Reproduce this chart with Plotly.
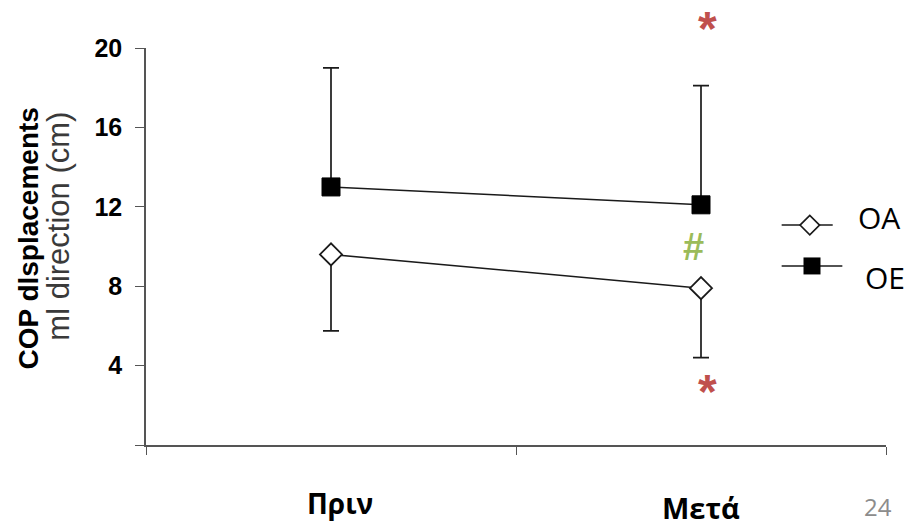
import plotly.graph_objects as go

categories = ["Πριν", "Μετά"]
x_pos = [0.5, 1.5]
oa_mean = [9.6, 7.9]
oa_err_low = [3.85, 3.5]
oe_mean = [13.0, 12.1]
oe_err_high = [6.0, 6.0]
y_ticks = [4, 8, 12, 16, 20]
series_names = ["OA", "OE"]

AX = "#555555"
LINE = "#1a1a1a"

fig = go.Figure()

fig.add_trace(go.Scatter(
    x=x_pos, y=oe_mean, mode="lines+markers", name="OE",
    line=dict(color=LINE, width=1.5),
    marker=dict(symbol="square", size=18, color="black", line=dict(color="black", width=1)),
    error_y=dict(type="data", symmetric=False, array=oe_err_high, arrayminus=[0, 0],
                 color=LINE, thickness=1.7, width=8),
    showlegend=False, cliponaxis=False,
))
fig.add_trace(go.Scatter(
    x=x_pos, y=oa_mean, mode="lines+markers", name="OA",
    line=dict(color=LINE, width=1.5),
    marker=dict(symbol="diamond", size=17, color="white", line=dict(color=LINE, width=1.8)),
    error_y=dict(type="data", symmetric=False, array=[0, 0], arrayminus=oa_err_low,
                 color=LINE, thickness=1.7, width=8),
    showlegend=False, cliponaxis=False,
))

# manual legend on an overlay axis (0..1 in both directions)
leg_y = [0.554, 0.451]
fig.add_trace(go.Scatter(x=[0.859, 0.928], y=[leg_y[0]] * 2, mode="lines",
                         line=dict(color=LINE, width=1.5), xaxis="x2", yaxis="y2",
                         showlegend=False, cliponaxis=False))
fig.add_trace(go.Scatter(x=[0.897], y=[leg_y[0]], mode="markers",
                         marker=dict(symbol="diamond", size=15, color="white",
                                     line=dict(color=LINE, width=1.6)),
                         xaxis="x2", yaxis="y2", showlegend=False, cliponaxis=False))
fig.add_trace(go.Scatter(x=[0.859, 0.941], y=[leg_y[1]] * 2, mode="lines",
                         line=dict(color=LINE, width=1.5), xaxis="x2", yaxis="y2",
                         showlegend=False, cliponaxis=False))
fig.add_trace(go.Scatter(x=[0.9], y=[leg_y[1]], mode="markers",
                         marker=dict(symbol="square", size=17, color="black"),
                         xaxis="x2", yaxis="y2", showlegend=False, cliponaxis=False))

ann = []
ann.append(dict(x=0.959, y=0.572, xref="x2", yref="y2", text=series_names[0], showarrow=False,
                xanchor="left", yanchor="middle",
                font=dict(family="Open Sans", size=30, color="black")))
ann.append(dict(x=0.969, y=0.422, xref="x2", yref="y2", text=series_names[1], showarrow=False,
                xanchor="left", yanchor="middle",
                font=dict(family="Open Sans", size=30, color="black")))

# category labels
ann.append(dict(x=x_pos[0], y=0, xref="x", yref="paper", text=categories[0], showarrow=False,
                xanchor="center", yanchor="middle", xshift=9, yshift=-58,
                font=dict(family="Open Sans", size=28, color="black", weight="bold")))
ann.append(dict(x=x_pos[1], y=0, xref="x", yref="paper", text=categories[1], showarrow=False,
                xanchor="center", yanchor="middle", xshift=0, yshift=-62,
                font=dict(family="Open Sans", size=29, color="black", weight="bold")))
ann.append(dict(x=1, y=0, xref="paper", yref="paper", text="24", showarrow=False,
                xanchor="center", yanchor="middle", xshift=-8, yshift=-61,
                font=dict(family="Open Sans", size=24, color="#8c8c8c")))

# significance marks
ann.append(dict(x=x_pos[1], y=1, xref="x", yref="paper", text="*", showarrow=False,
                xanchor="center", yanchor="middle", xshift=6, yshift=20,
                font=dict(family="Liberation Sans", size=48, color="#c0504d", weight="bold")))
ann.append(dict(x=x_pos[1], y=oa_mean[1] - oa_err_low[1], xref="x", yref="y", text="*", showarrow=False,
                xanchor="center", yanchor="middle", xshift=6, yshift=-34,
                font=dict(family="Liberation Sans", size=48, color="#c0504d", weight="bold")))
ann.append(dict(x=x_pos[1], y=(oa_mean[1] + oe_mean[1]) / 2, xref="x", yref="y", text="#", showarrow=False,
                xanchor="center", yanchor="middle", xshift=-8, yshift=0,
                font=dict(family="Liberation Sans", size=38, color="#9bbb59", weight="bold")))

# y-axis title, two lines
ann.append(dict(x=0, y=0.52, xref="paper", yref="paper", text="COP dlsplacements", showarrow=False,
                textangle=-90, xanchor="center", yanchor="middle", xshift=-117,
                font=dict(family="Liberation Sans", size=28, color="black", weight="bold")))
ann.append(dict(x=0, y=0.55, xref="paper", yref="paper", text="ml direction (cm)", showarrow=False,
                textangle=-90, xanchor="center", yanchor="middle", xshift=-87,
                font=dict(family="Liberation Sans", size=31, color="#3a3a3a")))

fig.update_layout(
    width=907, height=526,
    margin=dict(l=146, r=21, t=48, b=81),
    paper_bgcolor="white", plot_bgcolor="white",
    showlegend=False,
    annotations=ann,
    xaxis=dict(range=[0, 2], tickvals=[0, 1, 2], ticktext=["", "", ""],
               showline=True, linecolor=AX, linewidth=1.5, ticks="outside",
               ticklen=8, tickcolor=AX, tickwidth=1.2, showgrid=False, zeroline=False,
               fixedrange=True),
    yaxis=dict(range=[0, 20], tickvals=[0] + y_ticks, ticktext=[""] + [str(v) for v in y_ticks],
               showline=True, linecolor=AX, linewidth=1.5, ticks="outside",
               ticklen=9, tickcolor=AX, tickwidth=1.2, showgrid=False, zeroline=False,
               tickfont=dict(family="Liberation Sans", size=25, color="black", weight="bold"),
               ticklabelstandoff=8),
    xaxis2=dict(range=[0, 1], overlaying="x", visible=False, domain=[0, 1]),
    yaxis2=dict(range=[0, 1], overlaying="y", visible=False, domain=[0, 1]),
)

fig.write_html("out.html", config={"displayModeBar": False},
               post_script="document.body.style.margin='0';document.body.style.overflow='hidden';")
